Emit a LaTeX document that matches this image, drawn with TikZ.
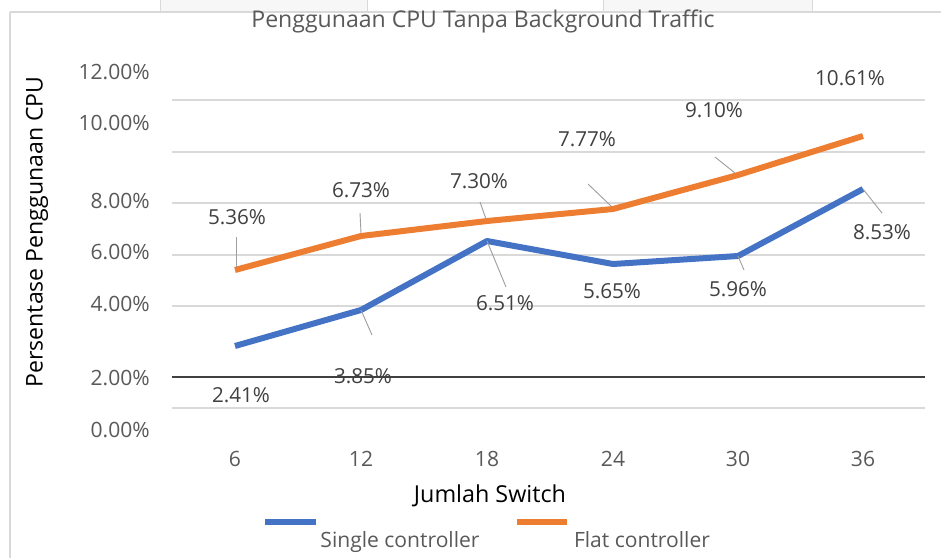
\documentclass[tikz,border=0pt]{standalone}
\usepackage{fontspec}
\setmainfont{Open Sans}
\definecolor{flatc}{HTML}{ED7D31}
\definecolor{singlec}{HTML}{4472C4}
\definecolor{txtgrey}{HTML}{595959}
\definecolor{lblgrey}{HTML}{404040}
\definecolor{gridgrey}{HTML}{D9D9D9}
\begin{document}
\begin{tikzpicture}[x=0.75pt, y=-0.75pt,
    ticklbl/.style={text=txtgrey, font=\fontsize{15.8}{18}\selectfont, inner sep=0pt},
    datalbl/.style={text=lblgrey, font=\fontsize{15.5}{18}\selectfont, inner sep=0pt},
    leader/.style={draw=gray!75, line width=0.7pt},
    series/.style={line width=4.5pt, line join=round}]
    \useasboundingbox (0, 0) rectangle (941, 558);

    % sheet cells behind the chart
    \draw [draw=gridgrey, fill=black!3] (160, -1) rectangle (367, 11);
    \draw [draw=gridgrey, fill=black!3] (603, -1) rectangle (812, 11);
    \draw [gridgrey, line width=0.8pt] (10, 12) -- (941, 12);
    \draw [gridgrey, line width=1.5pt] (10, 12) -- (10, 558);

    \draw (483, 21) node [text=txtgrey, font=\fontsize{17.3}{20}\selectfont] (title)
          {Penggunaan CPU Tanpa Background Traffic};

    % grid
    \foreach \gy in {100, 152, 203, 255, 306, 408}
        \draw [gridgrey, line width=1.5pt] (172, \gy) -- (925, \gy);
    \draw [lblgrey, line width=1.5pt] (172, 377) -- (925, 377);

    % y ticks
    \foreach \gy/\gt in {72/12.00\%, 123/10.00\%, 201/8.00\%, 252/6.00\%,
                         304/4.00\%, 378/2.00\%, 430/0.00\%}
        \draw (150, \gy) node [ticklbl, anchor=east] {\gt};

    % x ticks
    \foreach \gx/\gt in {235/6, 361/12, 487/18, 613/24, 738/30, 863/36}
        \draw (\gx, 459) node [ticklbl] {\gt};

    \draw (490, 496) node [font=\fontsize{17.5}{20}\selectfont] (xtitle) {Jumlah Switch};
    \draw (37, 232) node [rotate=90, font=\fontsize{17.3}{20}\selectfont] (ytitle)
          {Persentase Penggunaan CPU};

    % data points
    \coordinate (f1) at (235, 270);
    \coordinate (f2) at (361, 236);
    \coordinate (f3) at (487, 221);
    \coordinate (f4) at (613, 209);
    \coordinate (f5) at (738, 175);
    \coordinate (f6) at (863, 136);
    \coordinate (s1) at (235, 346);
    \coordinate (s2) at (361, 310);
    \coordinate (s3) at (487, 241);
    \coordinate (s4) at (613, 264);
    \coordinate (s5) at (738, 256);
    \coordinate (s6) at (863, 189);

    \draw [series, flatc] (f1) -- (f2) -- (f3) -- (f4) -- (f5) -- (f6);
    \draw [series, singlec] (s1) -- (s2) -- (s3) -- (s4) -- (s5) -- (s6);

    % flat controller labels
    \draw (237, 217) node [datalbl] (lf1) {5.36\%};
    \draw (361, 190) node [datalbl] (lf2) {6.73\%};
    \draw (479, 181) node [datalbl] (lf3) {7.30\%};
    \draw (587, 139) node [datalbl] (lf4) {7.77\%};
    \draw (714, 110) node [datalbl] (lf5) {9.10\%};
    \draw (850, 78) node [datalbl] (lf6) {10.61\%};
    \coordinate (af1) at (236, 237);
    \coordinate (af2) at (360, 213);
    \coordinate (af3) at (480, 202);
    \coordinate (af4) at (588, 184);
    \coordinate (af5) at (715, 157);
    \draw [leader] (af1) -- (236, 267);
    \draw [leader] (af2) -- (361, 233);
    \draw [leader] (af3) -- (486, 219);
    \draw [leader] (af4) -- (611, 206);
    \draw [leader] (af5) -- (735, 173);

    % single controller labels
    \draw (241, 395) node [datalbl] (ls1) {2.41\%};
    \draw (363, 376) node [datalbl] (ls2) {3.85\%};
    \draw (505, 303) node [datalbl] (ls3) {6.51\%};
    \draw (612, 291) node [datalbl] (ls4) {5.65\%};
    \draw (738, 289) node [datalbl] (ls5) {5.96\%};
    \draw (882, 232) node [datalbl] (ls6) {8.53\%};
    \coordinate (as2) at (372, 335);
    \coordinate (as3) at (506, 287);
    \coordinate (as5) at (744, 270);
    \coordinate (as6) at (882, 213);
    \draw [leader] (s2) -- (as2);
    \draw [leader] (s3) -- (as3);
    \draw [leader] (s5) -- (as5);
    \draw [leader] (s6) -- (as6);

    % legend
    \coordinate (ka) at (265, 522);
    \coordinate (kb) at (316, 522);
    \coordinate (kc) at (517, 522);
    \coordinate (kd) at (567, 522);
    \draw [singlec, line width=4.5pt] (ka) -- (kb);
    \draw [flatc, line width=4.5pt] (kc) -- (kd);
    \draw (400, 547) node [ticklbl, anchor=base] (ksingle) {Single controller};
    \draw (642, 547) node [ticklbl, anchor=base] (kflat) {Flat controller};
\end{tikzpicture}
\end{document}
